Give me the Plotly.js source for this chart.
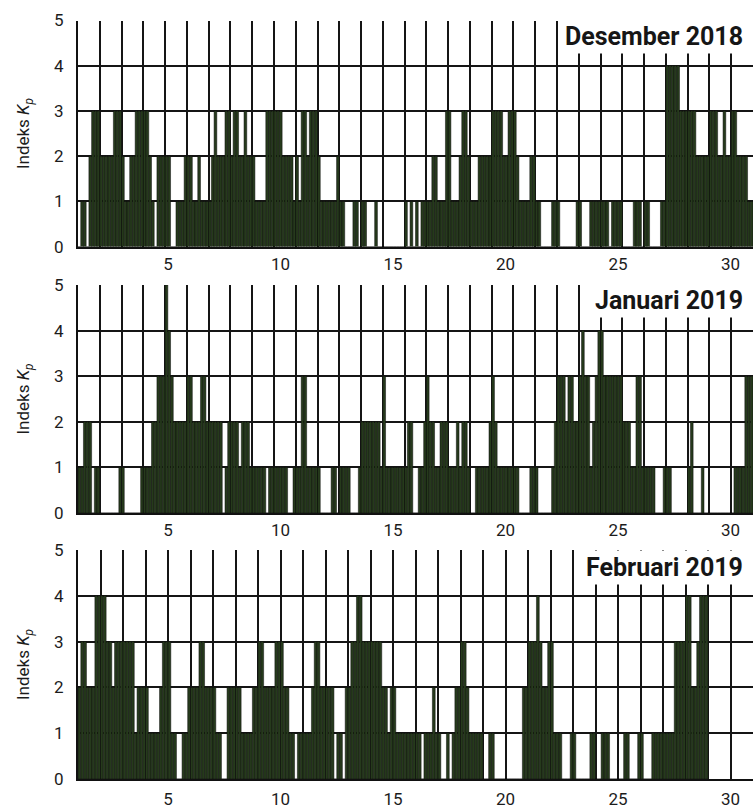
<!DOCTYPE html>
<html>
<head>
<meta charset="utf-8">
<script src="https://cdn.plot.ly/plotly-3.0.1.min.js"></script>
<style>
  html, body { margin: 0; padding: 0; background: #ffffff; }
  #chart { width: 753px; height: 812px; }
</style>
</head>
<body>
<div id="chart"></div>
<script>
// 3-hourly Kp index, 8 values per day
const decKp = [
  [0,1,1,0,2,3,3,3],[2,2,2,2,2,3,3,3],[2,1,1,2,2,3,3,3],[3,3,2,1,0,2,2,2],
  [2,2,0,0,1,1,1,2],[2,2,1,1,2,1,1,1],[1,2,3,2,2,2,3,3],[2,3,3,2,2,3,2,2],
  [2,1,1,1,1,3,3,3],[3,3,3,2,2,2,2,1],[2,1,3,3,2,3,3,3],[2,1,1,1,1,1,1,2],
  [1,1,0,0,0,1,1,0],[1,1,0,0,0,1,0,0],[0,0,0,0,0,0,0,0],[1,0,1,0,1,0,1,1],
  [1,1,2,2,1,1,1,3],[3,1,1,1,2,3,3,2],[1,1,1,2,2,2,2,2],[3,3,3,3,2,2,3,3],
  [3,2,1,1,1,1,2,2],[1,1,0,0,0,0,1,1],[1,0,0,0,0,0,0,1],[1,0,0,0,1,1,1,1],
  [1,1,1,0,1,1,1,1],[0,0,0,0,1,1,1,0],[1,1,0,0,0,0,1,1],[4,4,4,4,4,3,3,3],
  [3,3,3,2,2,2,2,2],[3,3,3,2,2,3,2,2],[3,3,2,2,2,2,1,1]
];
const janKp = [
  [1,1,2,2,2,0,1,1],[0,0,0,0,0,0,0,1],[1,0,0,0,0,0,0,1],[1,1,1,2,2,3,3,3],
  [5,4,3,2,2,2,2,2],[3,3,2,2,2,3,3,2],[2,2,2,2,2,0,1,2],[2,2,2,1,2,2,2,1],
  [1,1,1,1,1,0,1,1],[1,1,1,1,1,0,0,1],[1,1,3,3,1,1,1,1],[1,0,0,0,0,1,1,0],
  [1,1,1,1,0,0,0,1],[2,2,2,2,2,2,2,1],[3,1,1,1,1,1,1,1],[1,2,2,0,0,1,1,2],
  [3,2,2,1,1,2,2,2],[1,1,1,2,1,2,2,1],[0,0,1,1,1,1,1,2],[3,2,1,1,1,1,1,1],
  [1,1,0,0,0,0,1,1],[1,0,0,0,0,0,1,2],[3,3,3,2,3,3,2,2],[3,4,3,3,1,2,3,4],
  [4,3,3,3,3,3,3,3],[2,2,2,1,1,3,3,1],[1,1,1,1,0,0,0,1],[1,1,0,0,0,0,0,0],
  [1,2,0,0,0,1,0,0],[0,0,0,0,0,0,0,0],[0,1,1,1,1,3,3,3]
];
const febKp = [
  [2,3,3,2,2,2,4,4],[4,4,3,3,2,3,3,3],[3,3,3,3,1,2,2,2],[2,1,1,1,1,2,3,3],
  [3,1,1,0,0,1,1,2],[2,2,2,3,3,2,2,2],[2,1,1,0,0,2,2,2],[2,2,1,1,1,1,2,2],
  [3,3,2,2,2,2,3,3],[3,2,2,1,1,0,1,1],[1,1,1,2,3,3,2,2],[2,2,2,0,1,1,0,2],
  [2,3,3,4,4,3,3,3],[3,3,3,3,2,2,1,2],[2,1,1,1,1,1,1,1],[1,1,0,1,1,1,2,1],
  [1,0,0,1,0,1,2,2],[3,3,2,1,1,1,1,1],[0,0,1,1,0,0,0,0],[0,0,0,0,0,0,2,2],
  [3,3,3,4,3,2,2,3],[3,1,1,1,0,0,0,1],[1,0,0,0,0,0,1,1],[0,0,1,1,1,0,0,0],
  [0,0,1,1,0,0,0,1],[1,0,0,0,1,1,1,1],[1,1,1,1,3,3,3,3],[4,4,2,2,3,4,4,4]
];
const monthTitles = ['Desember 2018', 'Januari 2019', 'Februari 2019'];
const xTickVals = [5, 10, 15, 20, 25, 30];
const yTickVals = [0, 1, 2, 3, 4, 5];

const W = 753, H = 812, L = 78;
const barFill = '#263a1c';
const gridCol = '#151515';
const txtCol = '#1c1c1c';
const FONT = 'Roboto, "Liberation Sans", Arial, sans-serif';

function barTrace(kp, xa, ya) {
  const x = [], y = [];
  kp.forEach((day, i) => day.forEach((v, k) => {
    x.push(i + 1 + (k + 0.5) / 8);
    y.push(v);
  }));
  return {
    type: 'bar', x: x, y: y, width: 1 / 8, xaxis: xa, yaxis: ya,
    marker: { color: barFill, line: { color: '#0d0d0d', width: 0.5 } },
    hoverinfo: 'x+y', showlegend: false
  };
}
function ghost(xa, ya) {
  return { type: 'scatter', mode: 'markers', x: [], y: [], xaxis: xa, yaxis: ya,
           showlegend: false, hoverinfo: 'skip' };
}

// pixel rows of the three panels (top = Kp 5, bottom = Kp 0)
const rows = [[20.5, 246.7], [285, 513], [550, 779]];
const dom = rows.map(r => [1 - r[1] / H, 1 - r[0] / H]);

function yAxis(d) {
  return {
    domain: d, range: [0, 5], tickvals: yTickVals, showgrid: true,
    gridcolor: gridCol, gridwidth: 2, zeroline: false,
    showline: true, linecolor: '#111', linewidth: 2, mirror: false,
    ticks: 'outside', ticklen: 9, tickcolor: 'rgba(0,0,0,0)',
    tickfont: { size: 17, color: txtCol, family: FONT },
    title: { text: 'Indeks <i>K<sub>p</sub></i>', font: { size: 17, color: txtCol, family: FONT }, standoff: 20 },
    automargin: false, fixedrange: true
  };
}
function gridAxis(anchor, range, labels) {
  const a = {
    domain: [0, 1], range: range, anchor: anchor, tick0: 1, dtick: 1,
    showgrid: true, gridcolor: gridCol, gridwidth: 2, zeroline: false,
    showline: true, linecolor: '#111', linewidth: 2,
    ticks: '', showticklabels: false, fixedrange: true, automargin: false
  };
  if (labels) {
    a.tickmode = 'array'; a.tickvals = xTickVals; a.showticklabels = true;
    a.ticks = 'outside'; a.ticklen = 4; a.tickcolor = 'rgba(0,0,0,0)';
    a.tickfont = { size: 17, color: txtCol, family: FONT };
    a.minor = { tick0: 1, dtick: 1, showgrid: true, gridcolor: gridCol, gridwidth: 2, ticks: '' };
  }
  return a;
}
function labelAxis(over, anchor) {
  return {
    overlaying: over, anchor: anchor, side: 'bottom', range: [1, 31],
    tickmode: 'array', tickvals: xTickVals, showgrid: false, zeroline: false,
    showline: false, ticks: 'outside', ticklen: 2, tickcolor: 'rgba(0,0,0,0)', automargin: false,
    tickfont: { size: 17, color: txtCol, family: FONT }, fixedrange: true
  };
}

const data = [
  barTrace(decKp, 'x', 'y'),
  barTrace(janKp, 'x2', 'y2'),
  barTrace(febKp, 'x3', 'y3'),
  ghost('x4', 'y'),
  ghost('x5', 'y2')
];

const titleY = [37, 300, 567];
const layout = {
  width: W, height: H,
  margin: { l: L, r: 0, t: 0, b: 0, pad: 0 },
  paper_bgcolor: '#ffffff', plot_bgcolor: '#ffffff',
  font: { family: FONT, color: txtCol },
  bargap: 0, showlegend: false,
  xaxis: gridAxis('y', [1, 32], false),
  xaxis2: gridAxis('y2', [1, 32], false),
  xaxis3: gridAxis('y3', [1, 31], true),
  xaxis4: labelAxis('x', 'y'),
  xaxis5: labelAxis('x2', 'y2'),
  yaxis: yAxis(dom[0]),
  yaxis2: yAxis(dom[1]),
  yaxis3: yAxis(dom[2]),
  annotations: monthTitles.map((t, i) => ({
    xref: 'paper', yref: 'paper', x: (746 - L) / (W - L), xanchor: 'right',
    y: 1 - titleY[i] / H, yanchor: 'middle', showarrow: false,
    text: '<b>' + t + '</b>', bgcolor: '#ffffff', borderpad: 2,
    font: { size: 25, color: '#161616', family: FONT }
  }))
};

Plotly.newPlot('chart', data, layout, { displayModeBar: false, staticPlot: true });
</script>
</body>
</html>
